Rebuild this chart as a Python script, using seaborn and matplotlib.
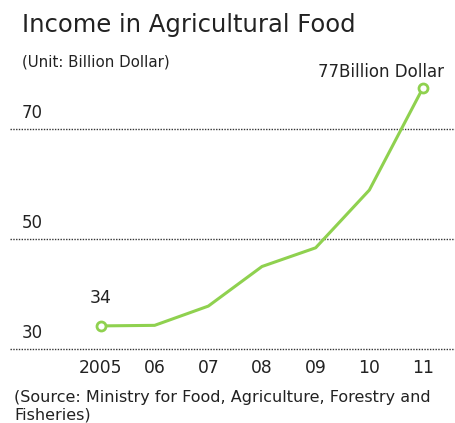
import matplotlib
matplotlib.use("Agg")
import matplotlib.pyplot as plt
import matplotlib.transforms as mtransforms
import seaborn as sns
import pandas as pd

# data
years = [2005, 2006, 2007, 2008, 2009, 2010, 2011]
year_labels = ["2005", "06", "07", "08", "09", "10", "11"]
income = [34.2, 34.3, 37.8, 45.0, 48.4, 58.9, 77.5]
grid_values = [30, 50, 70]

df = pd.DataFrame({"year": years, "income": income})

sns.set_theme(style="white")
plt.rcParams["font.family"] = ["DejaVu Sans"]

GREEN = "#8fd14f"
TEXT = "#222222"

fig = plt.figure(figsize=(4.55, 4.23), dpi=100)
# y: 30 -> 349 px, 5.5 px per unit
ax = fig.add_axes([10 / 455, 71.25 / 423, 445 / 455, 280.5 / 423])

# dotted reference lines
for v in grid_values:
    ax.axhline(v, color="#333333", linestyle=(0, (1, 1)), linewidth=1.0, zorder=1)

sns.lineplot(data=df, x="year", y="income", ax=ax, color=GREEN,
             linewidth=2.2, zorder=3, legend=False)

# open circles on first and last point
ends = df.iloc[[0, -1]]
ax.scatter(ends["year"], ends["income"], s=42, facecolor="white",
           edgecolor=GREEN, linewidth=2, zorder=4)

ax.set_xlim(2005 - 91 / 53.7, 2011 + 32 / 53.7)
ax.set_ylim(29.5, 80.5)
for s in ax.spines.values():
    s.set_visible(False)
ax.set_xlabel("")
ax.set_ylabel("")
ax.set_yticks([])
ax.set_xticks(years)
ax.set_xticklabels(year_labels, fontsize=12.3, color=TEXT)
ax.tick_params(axis="x", length=0, pad=5)

# y values written above the dotted lines at the left
trans = mtransforms.blended_transform_factory(fig.transFigure, ax.transData)
for v in grid_values:
    ax.text(22 / 455, v + 1.3, str(v), transform=trans, fontsize=12,
            color=TEXT, ha="left", va="bottom")

ax.annotate("34", (years[0], income[0]), xytext=(0, 20),
            textcoords="offset points", fontsize=12.5, color=TEXT,
            ha="center", va="center")
ax.annotate("77Billion Dollar", (years[-1], income[-1]), xytext=(-30, 11),
            textcoords="offset points", fontsize=12, color=TEXT,
            ha="center", va="center")

fig.text(22 / 455, 1 - 25 / 423, "Income in Agricultural Food", fontsize=17.5,
         color=TEXT, ha="left", va="center")
fig.text(22 / 455, 1 - 62 / 423, "(Unit: Billion Dollar)", fontsize=10.8,
         color=TEXT, ha="left", va="center")
fig.text(14 / 455, 1 - 397 / 423,
         "(Source: Ministry for Food, Agriculture, Forestry and",
         fontsize=11.5, color=TEXT, ha="left", va="center")
fig.text(14 / 455, 1 - 415 / 423, "Fisheries)", fontsize=11.5, color=TEXT,
         ha="left", va="center")

fig.savefig("out.png", dpi=100)
